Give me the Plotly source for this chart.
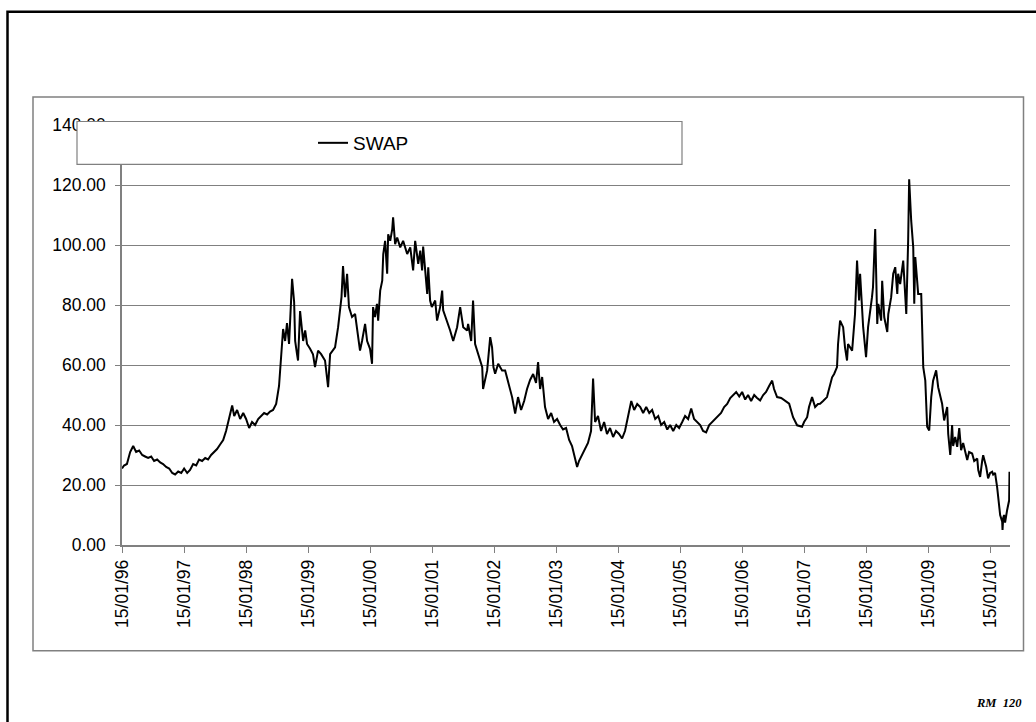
import plotly.graph_objects as go

# SWAP series (observation date, level)
dates = [
    "1996-01-15", "1996-01-27", "1996-02-13", "1996-03-03", "1996-03-21", "1996-04-07", "1996-04-25",
    "1996-05-13", "1996-05-30", "1996-06-17", "1996-07-05", "1996-07-22", "1996-08-09", "1996-08-27",
    "1996-09-13", "1996-10-01", "1996-10-19", "1996-11-06", "1996-11-23", "1996-12-11", "1996-12-29",
    "1997-01-15", "1997-02-02", "1997-02-19", "1997-03-09", "1997-03-27", "1997-04-13", "1997-05-01",
    "1997-05-19", "1997-06-05", "1997-06-23", "1997-07-11", "1997-07-28", "1997-08-15", "1997-09-02",
    "1997-09-19", "1997-10-07", "1997-10-25", "1997-11-06", "1997-11-23", "1997-12-11", "1997-12-29",
    "1998-01-15", "1998-02-02", "1998-02-19", "1998-03-09", "1998-03-27", "1998-04-13", "1998-05-01",
    "1998-05-19", "1998-06-05", "1998-06-23", "1998-07-11", "1998-07-28", "1998-08-09", "1998-08-21",
    "1998-09-02", "1998-09-13", "1998-09-25", "1998-10-13", "1998-10-25", "1998-10-31", "1998-11-11",
    "1998-11-17", "1998-11-29", "1998-12-05", "1998-12-17", "1998-12-29",
    "1999-01-09", "1999-01-27", "1999-02-13", "1999-02-25", "1999-03-15", "1999-04-02", "1999-04-25",
    "1999-05-13", "1999-05-25", "1999-06-23", "1999-07-11", "1999-07-31", "1999-08-09", "1999-08-21",
    "1999-09-02", "1999-09-13", "1999-10-01", "1999-10-19", "1999-11-06", "1999-11-17", "1999-11-29",
    "1999-12-17", "1999-12-29",
    "2000-01-15", "2000-01-27", "2000-02-02", "2000-02-13", "2000-02-25", "2000-03-03", "2000-03-15",
    "2000-03-27", "2000-04-02", "2000-04-13", "2000-04-25", "2000-05-01", "2000-05-13", "2000-05-25",
    "2000-05-30", "2000-06-11", "2000-06-23", "2000-07-11", "2000-07-28", "2000-08-21", "2000-09-08",
    "2000-09-25", "2000-10-07", "2000-10-25", "2000-11-06", "2000-11-17", "2000-11-23", "2000-12-17",
    "2000-12-23", "2001-01-03", "2001-01-13",
    "2001-02-02", "2001-02-13", "2001-03-03", "2001-03-15", "2001-03-21", "2001-04-13", "2001-05-01",
    "2001-05-19", "2001-06-11", "2001-06-29", "2001-07-17", "2001-08-09", "2001-08-15", "2001-09-02",
    "2001-09-13", "2001-09-25", "2001-10-13", "2001-11-06", "2001-11-11", "2001-12-05", "2001-12-23",
    "2002-01-03", "2002-01-11",
    "2002-01-21", "2002-02-08", "2002-03-03", "2002-03-21", "2002-04-07", "2002-05-01", "2002-05-19",
    "2002-06-05", "2002-06-23", "2002-07-11", "2002-07-28", "2002-08-15", "2002-09-02", "2002-09-19",
    "2002-10-01", "2002-10-13", "2002-10-25", "2002-11-11", "2002-11-29", "2002-12-17", "2003-01-03",
    "2003-01-21", "2003-02-08", "2003-02-25", "2003-03-15", "2003-04-02", "2003-04-19", "2003-05-07",
    "2003-05-19", "2003-05-30", "2003-06-17", "2003-07-05", "2003-07-22", "2003-08-09", "2003-08-21",
    "2003-09-02", "2003-09-19", "2003-10-07", "2003-10-25", "2003-11-11", "2003-11-29", "2003-12-17",
    "2004-01-03",
    "2004-01-21", "2004-02-08", "2004-02-25", "2004-03-15", "2004-04-02", "2004-04-19", "2004-05-07",
    "2004-05-25", "2004-06-11", "2004-06-29", "2004-07-17", "2004-08-03", "2004-08-21", "2004-09-08",
    "2004-09-25", "2004-10-13", "2004-10-31", "2004-11-17", "2004-12-05", "2004-12-23", "2005-01-09",
    "2005-01-27", "2005-02-13", "2005-03-03", "2005-03-21", "2005-04-07", "2005-04-25", "2005-05-13",
    "2005-05-30", "2005-06-17", "2005-07-05", "2005-07-22", "2005-08-09", "2005-08-27", "2005-09-13",
    "2005-10-01", "2005-10-19", "2005-11-06", "2005-11-23", "2005-12-11", "2005-12-29",
    "2006-01-15", "2006-02-02", "2006-02-19", "2006-03-09", "2006-03-27", "2006-04-13", "2006-05-01",
    "2006-05-19", "2006-06-05", "2006-06-23", "2006-07-11", "2006-07-22", "2006-08-09", "2006-09-02",
    "2006-09-25", "2006-10-19", "2006-11-11", "2006-12-05", "2007-01-03",
    "2007-01-15", "2007-02-02", "2007-02-13", "2007-03-03", "2007-03-21", "2007-04-07", "2007-04-19",
    "2007-05-07", "2007-05-30", "2007-06-11", "2007-06-29", "2007-07-11", "2007-07-28", "2007-08-03",
    "2007-08-15", "2007-09-02", "2007-09-13", "2007-09-25", "2007-10-01", "2007-10-25", "2007-11-11",
    "2007-11-23", "2007-12-05", "2007-12-11", "2007-12-23", "2007-12-29",
    "2008-01-15", "2008-01-27", "2008-02-19", "2008-02-25", "2008-03-09", "2008-03-21", "2008-03-27",
    "2008-04-13", "2008-04-19", "2008-05-01", "2008-05-19", "2008-05-25", "2008-06-11", "2008-06-23",
    "2008-07-05", "2008-07-17", "2008-07-22", "2008-08-03", "2008-08-21", "2008-08-27", "2008-09-08",
    "2008-09-19", "2008-09-25", "2008-10-07", "2008-10-19", "2008-10-25", "2008-10-31", "2008-11-11",
    "2008-11-17", "2008-12-05", "2008-12-11", "2008-12-17", "2008-12-29",
    "2009-01-09", "2009-01-21", "2009-02-02", "2009-02-13", "2009-03-03", "2009-03-15", "2009-04-07",
    "2009-04-19", "2009-05-07", "2009-05-13", "2009-05-25", "2009-06-05", "2009-06-11", "2009-06-23",
    "2009-07-05", "2009-07-17", "2009-07-28", "2009-08-09", "2009-09-02", "2009-09-13", "2009-10-01",
    "2009-10-13", "2009-10-31", "2009-11-06", "2009-11-17", "2009-11-29", "2009-12-05", "2009-12-23",
    "2010-01-03",
    "2010-01-15", "2010-01-27", "2010-02-02", "2010-02-13", "2010-02-25", "2010-03-03", "2010-03-15",
    "2010-03-27", "2010-03-29", "2010-04-02", "2010-04-07", "2010-04-13", "2010-04-19", "2010-04-25",
    "2010-05-07", "2010-05-09",
]

swap = [
    25.5, 26.5, 27, 31, 33, 31, 31.5,
    30, 29.5, 29, 29.5, 28, 28.5, 27.5,
    27, 26, 25.5, 24, 23.5, 24.5, 24,
    25.5, 24, 25, 27, 26.5, 28.5, 28,
    29, 28.5, 30, 31, 32, 33.5, 35,
    38, 42, 46.5, 43, 45, 42, 44,
    42, 39, 41, 40, 42, 43, 44,
    43.5, 44.5, 45, 47, 53, 62, 72,
    68, 74, 67, 88.7, 81, 68, 63.6,
    61.5, 78, 75, 68, 71.5,
    67, 65.4, 63.6, 59.3, 64.8, 63.6, 61.5,
    52.6, 63.6, 65.9, 72.6, 82.6, 93, 82.6,
    90.4, 79.3, 76, 77, 69.3, 64.8, 68,
    73.7, 68,
    65.4, 60.4, 79.3, 76, 80.4, 74.8, 84.8,
    88.1, 97, 101.4, 90.4, 103.6, 101.4, 105.3,
    109.2, 100.3, 102.5, 99.2, 101.4, 97, 99.2,
    91.5, 101.4, 93.7, 98.1, 91.5, 99.5, 83.7,
    92.6, 81.5, 79.3,
    81.5, 74.8, 79.3, 84.8, 78.2, 74.8, 71.5,
    68, 72.6, 79.3, 72.6, 71.5, 73.7, 68,
    81.5, 67, 63.6, 59.3, 52, 58.2, 69.3,
    65.9, 59.3,
    57.1, 60.4, 58.2, 58.2, 54.8, 49.3, 43.8,
    49.3, 45, 48, 52, 55, 57, 54,
    61, 52, 56, 46, 42, 44, 41,
    42, 40, 38.5, 39, 35, 33, 29,
    26, 28, 30, 32, 34, 38, 55.5,
    41, 43, 38, 41, 37, 39, 36,
    38,
    37, 35.5, 38, 43, 48, 45, 47,
    46, 44, 46, 44, 45, 42, 43,
    40, 41, 38.5, 40, 38, 40, 39,
    41, 43, 42, 45.5, 42, 41, 40,
    38, 37.5, 40, 41, 42, 43, 44,
    46, 47, 49, 50, 51, 49.5,
    51, 48.5, 50, 48, 50, 49, 48.2,
    50, 51, 53, 54.8, 52, 49.3, 49,
    48.2, 47.1, 42.6, 39.9, 39.4,
    41, 42.6, 46, 49.3, 46, 47, 47.1,
    48, 49.3, 52, 55.9, 57, 59.3, 67,
    74.8, 72.6, 65.9, 61.5, 67, 64.8, 77,
    94.8, 81.5, 90.4, 76, 72.6,
    62.6, 72.6, 82.6, 86, 105.3, 73.7, 80.4,
    74.8, 88.1, 76, 71, 77, 82.6, 90.4,
    92.6, 83.7, 90.4, 87, 94.8, 88.1, 77,
    101.4, 121.9, 108.1, 99.2, 80.4, 96, 88.1,
    83.7, 83.7, 67, 59.3, 54.8,
    39.4, 38.2, 49.3, 54.8, 58.2, 52.6, 47.1,
    41.5, 46, 37, 30, 40, 33, 36,
    32.7, 39, 31.6, 34, 28.3, 31, 30.5,
    28, 28.8, 25, 22.7, 28, 29.9, 26,
    22.2,
    24, 24.4, 23.5, 24, 19.4, 15.5, 10,
    7.8, 5, 9, 10, 7.5, 9, 11.6,
    14.9, 24.4,
]

# Axis ticks
tick_dates = [f"{y}-01-15" for y in range(1996, 2011)]
tick_labels = [f"15/01/{y % 100:02d}" for y in range(1996, 2011)]
y_ticks = [0, 20, 40, 60, 80, 100, 120, 140]

W, H = 1036, 722
L, R, T, B = 122, 26, 124.5, 177
PW, PH = W - L - R, H - T - B


def px_x(x):
    return (x - L) / PW


def px_y(y):
    return (H - B - y) / PH


GREY = "#808080"
FONT = "Liberation Sans, Arial, sans-serif"

fig = go.Figure()
fig.add_trace(go.Scatter(
    x=dates, y=swap, mode="lines", name="SWAP",
    line=dict(color="black", width=2),
))

shapes = [
    # outer frame of the page
    dict(type="rect", xref="paper", yref="paper",
         x0=px_x(7.5), x1=px_x(1050), y0=px_y(740), y1=px_y(11),
         line=dict(color="black", width=2.5), layer="below"),
    # chart area border
    dict(type="rect", xref="paper", yref="paper",
         x0=px_x(33), x1=px_x(1023.5), y0=px_y(651), y1=px_y(96.5),
         line=dict(color=GREY, width=1.5), layer="below"),
    # legend box
    dict(type="rect", xref="paper", yref="paper",
         x0=px_x(77), x1=px_x(682), y0=px_y(164), y1=px_y(121),
         line=dict(color=GREY, width=1.2), fillcolor="white", layer="above"),
]

fig.update_layout(
    width=W, height=H,
    margin=dict(l=L, r=R, t=T, b=B, autoexpand=False),
    paper_bgcolor="white", plot_bgcolor="white",
    font=dict(family=FONT, color="black", size=17),
    showlegend=True,
    legend=dict(
        x=px_x(313), y=px_y(142.5), xanchor="left", yanchor="middle",
        bgcolor="rgba(0,0,0,0)", borderwidth=0,
        font=dict(family=FONT, size=19, color="black"),
    ),
    shapes=shapes,
    annotations=[dict(
        text="<b><i>RM\u00a0 120</i></b>", xref="paper", yref="paper",
        x=px_x(1024), y=px_y(703), xanchor="right", yanchor="middle",
        showarrow=False, font=dict(family="Liberation Serif, Times New Roman, serif", size=12.5, color="black"),
    )],
)

fig.update_xaxes(
    type="date", range=["1996-01-15", "2010-05-12"],
    tickmode="array", tickvals=tick_dates, ticktext=tick_labels,
    tickangle=-90, ticks="outside", ticklen=6, tickcolor=GREY,
    showline=True, linecolor=GREY, linewidth=1.5,
    showgrid=False, zeroline=False,
    tickfont=dict(family=FONT, size=17.5, color="black"),
)
fig.update_yaxes(
    range=[0, 140], tickmode="array", tickvals=y_ticks, tickformat=".2f",
    ticks="outside", ticklen=5, tickcolor=GREY, ticklabelstandoff=6,
    showline=True, linecolor=GREY, linewidth=1.5,
    showgrid=True, gridcolor=GREY, gridwidth=1.2, zeroline=False,
    tickfont=dict(family=FONT, size=17.5, color="black"),
)

fig.write_html("out.html")
